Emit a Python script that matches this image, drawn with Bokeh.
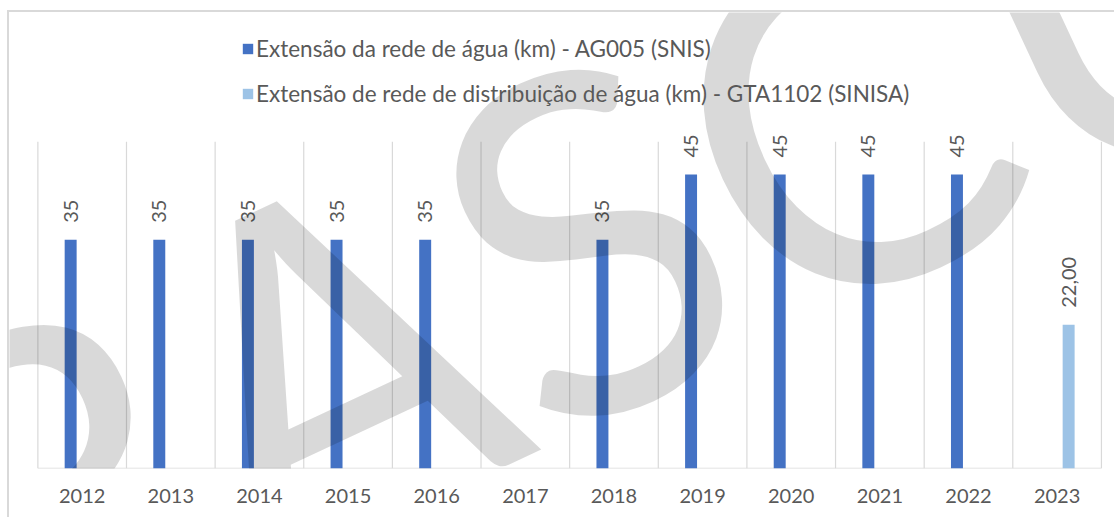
import math
from bokeh.plotting import figure
from bokeh.models import ColumnDataSource, Range1d, FixedTicker, Legend, LegendItem, Label
from bokeh.core.properties import value
from bokeh.embed import file_html
from bokeh.resources import INLINE

# ---- data ----
years = ["2012", "2013", "2014", "2015", "2016", "2017", "2018", "2019", "2020", "2021", "2022", "2023"]
snis = [35, 35, 35, 35, 35, None, 35, 45, 45, 45, 45, None]
sinisa = [None, None, None, None, None, None, None, None, None, None, None, 22.0]
snis_name = "Extensão da rede de água (km) - AG005 (SNIS)"
sinisa_name = "Extensão de rede de distribuição de água (km) - GTA1102 (SINISA)"
value_axis_max = 50
watermark_text = "RASCUNHO"

BLUE = "#4472C4"
LIGHT = "#9DC3E6"
GRAY_TXT = "#595959"
GRID = "#D9D9D9"
FONT = "Lato"

n = len(years)
centers = [i + 0.5 for i in range(n)]

p = figure(x_range=Range1d(-0.32, n + 0.17), y_range=Range1d(0, 69.8),
           width=1107, height=507, output_backend="svg", toolbar_location=None,
           y_axis_location=None, min_border_left=0, min_border_right=0,
           min_border_top=0, min_border_bottom=51)
p.styles = {"margin-left": "7px", "margin-top": "10px",
            "border-left": "2px solid #D9D9D9", "border-top": "2px solid #D9D9D9"}
p.outline_line_color = None
p.background_fill_color = "white"
p.border_fill_color = "white"
p.xgrid.visible = False
p.ygrid.visible = False

# vertical separators between categories (Excel-style gridlines)
bounds = list(range(n + 1))
p.segment(x0=bounds, x1=bounds, y0=[0] * len(bounds), y1=[value_axis_max] * len(bounds),
          line_color=GRID, line_width=1.2)

p.xaxis.ticker = FixedTicker(ticks=centers)
p.xaxis.major_label_overrides = {c: y for c, y in zip(centers, years)}
p.xaxis.axis_line_color = None
p.xaxis.major_tick_line_color = None
p.xaxis.minor_tick_line_color = None
p.xaxis.major_label_text_font = FONT
p.xaxis.major_label_text_font_size = "20px"
p.xaxis.major_label_text_color = GRAY_TXT
p.xaxis.major_label_standoff = 14
# axis baseline spanning only the category area
p.segment(x0=[0], x1=[n], y0=[0], y1=[0], line_color=GRID, line_width=1.6)

off = 0.13
bw = 0.135
s1 = ColumnDataSource(dict(x=[c - off for c, v in zip(centers, snis) if v is not None],
                           val=[v for v in snis if v is not None],
                           lab=[f"{v:.0f}" for v in snis if v is not None]))
s2 = ColumnDataSource(dict(x=[c + off for c, v in zip(centers, sinisa) if v is not None],
                           val=[v for v in sinisa if v is not None],
                           lab=[f"{v:.2f}".replace(".", ",") for v in sinisa if v is not None]))

r1 = p.vbar(x="x", top="val", width=bw, source=s1, fill_color=BLUE, line_color=None)
r2 = p.vbar(x="x", top="val", width=bw, source=s2, fill_color=LIGHT, line_color=None)

for src in (s1, s2):
    p.text(x="x", y="val", text="lab", source=src,
           angle=math.pi / 2, text_align="left", text_baseline="middle",
           y_offset=-17, text_font=value(FONT), text_font_size="20px",
           text_color=GRAY_TXT)

legend = Legend(items=[LegendItem(label=snis_name, renderers=[r1]),
                       LegendItem(label=sinisa_name, renderers=[r2])],
                location=(232, 361), orientation="vertical",
                glyph_width=13, glyph_height=13, label_standoff=2,
                label_height=24, spacing=18, padding=0, margin=0,
                border_line_color=None, background_fill_alpha=0,
                label_text_font=FONT, label_text_font_size="22.5px",
                label_text_color=GRAY_TXT)
p.add_layout(legend, "center")

# watermark overlay
wm = Label(x=20, y=-330, x_units="screen", y_units="screen", text=watermark_text,
           angle=25, angle_units="deg", text_font=FONT, text_font_size="470px",
           text_color="black", text_alpha=0.15)
p.add_layout(wm)

open("out.html", "w").write(file_html(p, INLINE))
